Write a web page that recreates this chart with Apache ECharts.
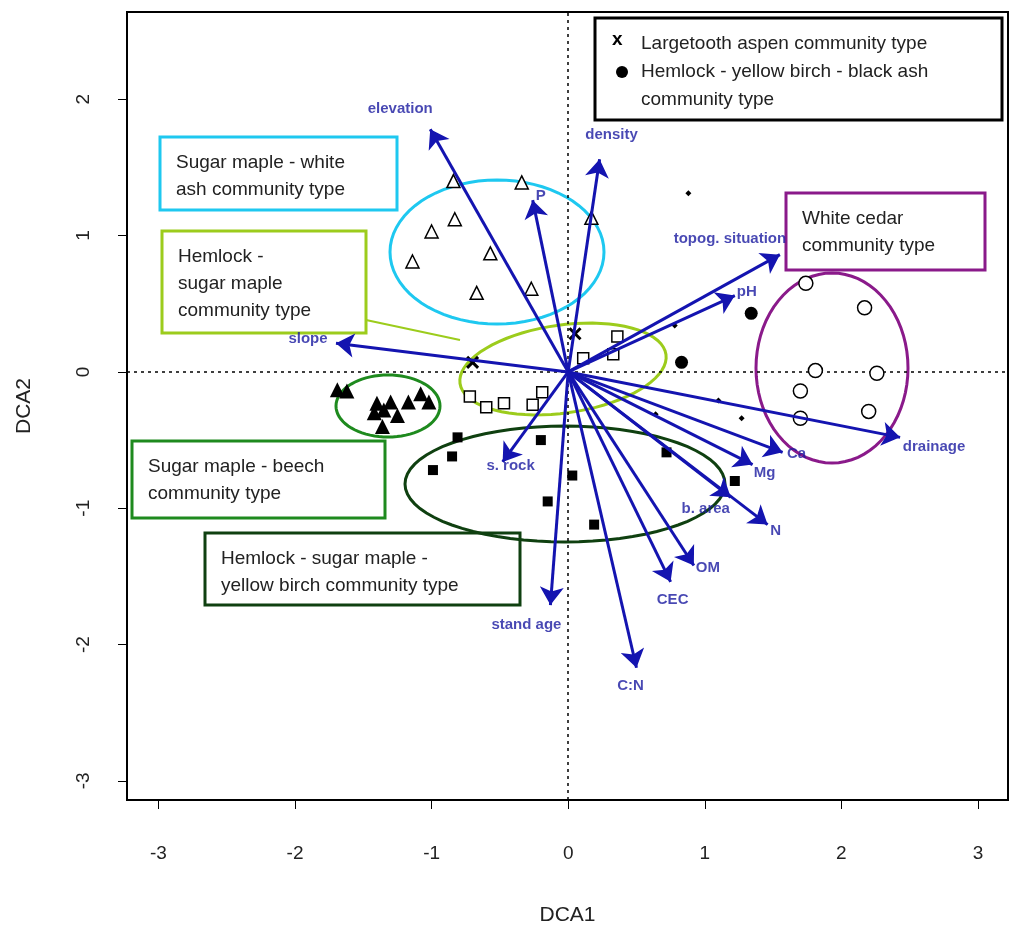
<!doctype html>
<html>
<head>
<meta charset="utf-8">
<title>DCA</title>
<style>html,body{margin:0;background:#fff}#c{width:1024px;height:939px}</style>
<script src="https://cdn.jsdelivr.net/npm/echarts@6/dist/echarts.min.js"></script>
</head>
<body>
<div id="c"></div>
<script>
// site scores by community type
const openTri = [[-1.14,0.81],[-1.0,1.03],[-0.83,1.12],[-0.84,1.40],[-0.57,0.87],[-0.67,0.58],[-0.34,1.39],[-0.27,0.61],[0.17,1.13]];
const fillTri = [[-1.69,-0.13],[-1.62,-0.14],[-1.40,-0.23],[-1.35,-0.28],[-1.36,-0.40],[-1.25,-0.32],[-1.17,-0.22],[-1.08,-0.16],[-1.02,-0.22],[-1.30,-0.22],[-1.42,-0.30]];
const openSq = [[-0.72,-0.18],[-0.6,-0.26],[-0.47,-0.23],[-0.26,-0.24],[-0.19,-0.15],[0.11,0.10],[0.33,0.13],[0.36,0.26]];
const fillSq = [[-0.81,-0.48],[-0.85,-0.62],[-0.99,-0.72],[-0.2,-0.5],[-0.15,-0.95],[0.03,-0.76],[0.19,-1.12],[0.72,-0.59],[1.22,-0.8]];
const openCirc = [[1.74,0.65],[2.17,0.47],[1.81,0.01],[2.26,-0.01],[1.7,-0.14],[1.7,-0.34],[2.2,-0.29]];
const fillCirc = [[1.34,0.43],[0.83,0.07]];
const crosses = [[-0.70,0.07],[0.05,0.28]];
const smallDots = [[0.88,1.31],[0.78,0.34],[0.64,-0.31],[1.10,-0.21],[1.27,-0.34]];
// environmental vectors
const vecNames = ['elevation','density','P','topog. situation','pH','slope','drainage','Ca','Mg','b. area','N','OM','CEC','C:N','stand age','s. rock'];
const vecEnds = [[-1.01,1.78],[0.23,1.56],[-0.26,1.26],[1.55,0.86],[1.22,0.56],[-1.7,0.21],[2.43,-0.48],[1.57,-0.59],[1.35,-0.68],[1.19,-0.92],[1.46,-1.12],[0.92,-1.42],[0.75,-1.54],[0.5,-2.17],[-0.13,-1.71],[-0.48,-0.66]];
const vecLabelOffsets = [[-30,-20],[12,-24],[8,-4],[-50,-16],[12,-4],[-28,-4],[34,10],[14,2],[12,8],[-25,12],[8,6],[14,2],[2,18],[-6,18],[-24,20],[8,4]];
const xTicks = [-3,-2,-1,0,1,2,3];
const yTicks = [-3,-2,-1,0,1,2];

const blue = '#1414b0';
const chart = echarts.init(document.getElementById('c'));
const G = {left:127, top:12, width:881, height:788};
const pts = (data, symbol, size, fill, stroke, bw) => ({
  type:'scatter', data, symbol, symbolSize:size, z:5,
  itemStyle:{color:fill, borderColor:stroke, borderWidth:bw, opacity:1}
});
const crossPath = 'path://M0,0L10,10M10,0L0,10';
function ellipse(cx, cy, rx, ry, rot, color, w){
  const p=[], a=rot*Math.PI/180;
  for(let i=0;i<72;i++){const t=i/72*2*Math.PI, x=rx*Math.cos(t), y=ry*Math.sin(t);
    p.push([cx+x*Math.cos(a)-y*Math.sin(a), cy+x*Math.sin(a)+y*Math.cos(a)]);}
  return {type:'polygon', shape:{points:p}, style:{fill:null, stroke:color, lineWidth:w}, z:3};
}
function box(x,y,w,h,color,lines,fs){
  return {type:'group', z:10, children:[
    {type:'rect', shape:{x,y,width:w,height:h}, style:{fill:'#fff', stroke:color, lineWidth:3}},
    {type:'text', x:x+16, y:y+12, style:{text:lines, fill:'#222', font:(fs||19)+'px "Liberation Sans", Arial', lineHeight:27}}
  ]};
}
const font = '"Liberation Sans", Arial, sans-serif';
chart.setOption({
  animation:false,
  grid:G,
  xAxis:{type:'value', min:-3.23, max:3.22, position:'bottom',
    axisLine:{show:false, onZero:false}, splitLine:{show:false},
    axisTick:{show:true, customValues:xTicks, length:9, inside:false, lineStyle:{color:'#000'}},
    axisLabel:{customValues:xTicks, margin:44, fontSize:19, color:'#222', fontFamily:font},
    name:'DCA1', nameLocation:'middle', nameGap:105, nameTextStyle:{fontSize:21, color:'#222', fontFamily:font}},
  yAxis:{type:'value', min:-3.14, max:2.64, position:'left',
    axisLine:{show:false, onZero:false}, splitLine:{show:false},
    axisTick:{show:true, customValues:yTicks, length:9, lineStyle:{color:'#000'}},
    axisLabel:{customValues:yTicks, rotate:90, margin:34, fontSize:19, color:'#222', fontFamily:font},
    name:'DCA2', nameLocation:'middle', nameGap:92, nameTextStyle:{fontSize:21, color:'#222', fontFamily:font}},
  series:[
    {type:'line', data:[], markLine:{silent:true, symbol:'none', label:{show:false},
      lineStyle:{color:'#000', type:[3,4], width:1.5}, data:[{xAxis:0},{yAxis:0}]}},
    {type:'lines', coordinateSystem:'cartesian2d', z:6, symbol:['none','arrow'], symbolSize:[0,18],
      lineStyle:{color:blue, width:3, opacity:1},
      data:vecEnds.map(e=>({coords:[[0,0],e]}))},
    {type:'scatter', symbolSize:0, z:7,
      data:vecEnds.map((e,i)=>({value:e, label:{offset:vecLabelOffsets[i]}})),
      label:{show:true, position:'inside', formatter:p=>vecNames[p.dataIndex], color:'#1a1aa0', fontWeight:'bold', fontSize:15, fontFamily:font}},
    pts(openTri,'triangle',13,'#fff','#000',1.5),
    pts(fillTri,'triangle',15,'#000','#000',0),
    pts(openSq,'rect',11,'#fff','#000',1.5),
    pts(fillSq,'rect',10,'#000','#000',0),
    pts(openCirc,'circle',14,'#fff','#000',1.5),
    pts(fillCirc,'circle',13,'#000','#000',0),
    pts(crosses,crossPath,11,'none','#000',3),
    pts(smallDots,'diamond',6,'#000','#000',0)
  ],
  graphic:[
    {type:'rect', shape:{x:G.left,y:G.top,width:G.width,height:G.height}, style:{fill:null, stroke:'#000', lineWidth:2}, z:2},
    ellipse(497,252,107,72,0,'#1ec8f0',3),
    ellipse(563,369,104,44,-8,'#9ccc1c',3),
    ellipse(388,406,52,31,0,'#1e8a1e',3),
    ellipse(565,484,160,58,0,'#0f4010',3),
    ellipse(832,368,76,95,0,'#8a1a8a',3),
    {type:'line', shape:{x1:366,y1:320,x2:460,y2:340}, style:{stroke:'#9ccc1c', lineWidth:2}, z:3},
    box(595,18,407,102,'#000','',19),
    {type:'text', x:612, y:30, z:11, style:{text:'x', fill:'#000', font:'bold 19px '+font}},
    {type:'circle', shape:{cx:622,cy:72,r:6}, style:{fill:'#000'}, z:11},
    {type:'text', x:641, y:30, z:11, style:{text:'Largetooth aspen community type\nHemlock - yellow birch - black ash\ncommunity type', fill:'#222', font:'19px '+font, lineHeight:28}},
    box(160,137,237,73,'#1ec8f0','Sugar maple - white\nash community type'),
    box(162,231,204,102,'#9ccc1c','Hemlock -\nsugar maple\ncommunity type'),
    box(132,441,253,77,'#1e8a1e','Sugar maple - beech\ncommunity type'),
    box(205,533,315,72,'#0f4010','Hemlock - sugar maple -\nyellow birch community type'),
    box(786,193,199,77,'#8a1a8a','White cedar\ncommunity type')
  ]
});
</script>
</body>
</html>
